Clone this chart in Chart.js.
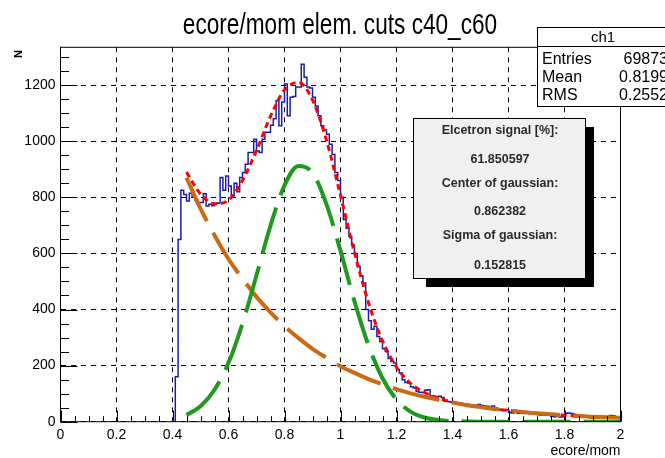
<!DOCTYPE html>
<html>
<head>
<meta charset="utf-8">
<script src="https://cdn.jsdelivr.net/npm/chart.js@4.4.0/dist/chart.umd.min.js"></script>
<style>
  html, body { margin: 0; padding: 0; background: #fff; }
</style>
</head>
<body>
<canvas id="c" width="665" height="458"></canvas>
<script>
// ecore/mom 히스토그램 (0.01 폭 bin, 첫 bin 은 0.41 부터)
const histFirstEdge = 0.41;
const binWidth = 0.01;
const histCounts = [
  160, 650, 825, 810, 787, 815, 805, 790, 782, 782,
  813, 769, 775, 770, 778, 780, 871, 825, 876, 840,
  804, 850, 820, 871, 889, 918, 960, 960, 1007, 965,
  960, 1007, 1032, 1032, 1057, 1080, 1144, 1055, 1140, 1204,
  1091, 1157, 1160, 1193, 1193, 1275, 1228, 1193, 1190, 1157,
  1126, 1091, 1055, 1040, 1025, 989, 953, 889, 860, 800,
  721, 690, 660, 630, 600, 554, 520, 495, 400, 360,
  330, 340, 304, 286, 260, 250, 225, 215, 209, 185,
  174, 150, 140, 138, 125, 120, 108, 105, 104, 112,
  114, 92, 90, 88, 91, 86, 73, 72, 70, 67,
  66, 68, 65, 60, 62, 58, 60, 57, 61, 58,
  56, 55, 52, 56, 50, 44, 42, 40, 43, 33,
  31, 34, 30, 32, 29, 31, 28, 30, 27, 26,
  24, 25, 23, 25, 19, 18, 20, 17, 18, 30,
  31, 29, 27, 18, 17, 19, 16, 18, 13, 12,
  14, 13, 12, 13, 12, 22, 21, 14, 13,
];

// fit 곡선 (그림에서 읽은 값, 0.05 간격)
const fitX = [
  0.45, 0.50, 0.55, 0.60, 0.65, 0.70, 0.75, 0.80, 0.85, 0.90,
  0.95, 1.00, 1.05, 1.10, 1.15, 1.20, 1.25, 1.30, 1.35, 1.40,
  1.45, 1.50, 1.55, 1.60, 1.65, 1.70, 1.75, 1.80, 1.85, 1.90,
  1.95, 2.00,
];
const totalFit = [
  890, 812, 777, 790, 860, 967, 1089, 1183, 1210, 1147,
  1003, 807, 603, 424, 288, 195, 137, 104, 84, 70,
  60, 52, 45, 40, 35, 30, 27, 23, 20, 18,
  16, 14,
];
const signalFit = [
  24, 55, 114, 210, 350, 522, 699, 843, 912, 887,
  775, 609, 429, 272, 155, 79, 36, 15, 6, 2,
  1, 0, 0, 0, 0, 0, 0, 0, 0, 0,
  0, 0,
];
const backgroundFit = [
  870, 760, 665, 580, 510, 445, 390, 340, 298, 260,
  228, 198, 174, 152, 133, 116, 101, 89, 78, 68,
  59, 52, 45, 40, 35, 30, 27, 23, 20, 18,
  16, 14,
];

const xTickLabels = ['0', '0.2', '0.4', '0.6', '0.8', '1', '1.2', '1.4', '1.6', '1.8', '2'];
const yTickLabels = ['0', '200', '400', '600', '800', '1000', '1200'];

const statNames = ['Entries', 'Mean', 'RMS'];
const statValues = ['69873', '0.8199', '0.2552'];
const fitInfo = [
  'Elcetron signal [%]:', '61.850597',
  'Center of gaussian:', '0.862382',
  'Sigma of gaussian:', '0.152815',
];

const FONT = '"Liberation Sans", Arial, sans-serif';

// 히스토그램 계단선용 점 (bin 왼쪽 edge 기준)
const histPoints = [{ x: histFirstEdge, y: 0 }];
histCounts.forEach((c, i) => histPoints.push({ x: histFirstEdge + i * binWidth, y: c }));
histPoints.push({ x: 2.0, y: histCounts[histCounts.length - 1] });

const toXY = (ys) => ys.map((y, i) => ({ x: fitX[i], y }));

// ROOT 스타일: 프레임, 안쪽 눈금, 제목, 통계 박스
const rootLook = {
  id: 'rootLook',
  beforeDraw(chart) {
    const ctx = chart.ctx;
    ctx.save();
    ctx.fillStyle = '#fff';
    ctx.fillRect(0, 0, chart.width, chart.height);
    ctx.restore();
  },
  afterDatasetsDraw(chart) {
    const ctx = chart.ctx;
    const { left, right, top, bottom } = chart.chartArea;
    const xs = chart.scales.x;
    const ys = chart.scales.y;
    ctx.save();

    // frame
    ctx.strokeStyle = '#000';
    ctx.lineWidth = 1;
    ctx.strokeRect(left, top, right - left, bottom - top);

    // inward ticks
    ctx.beginPath();
    for (let i = 0; i <= 40; i++) {
      const px = Math.round(xs.getPixelForValue(i * 0.05)) + 0.5;
      const len = i % 4 === 0 ? 11 : 5.5;
      ctx.moveTo(px, bottom);
      ctx.lineTo(px, bottom - len);
    }
    for (let v = 0; v <= ys.max; v += 50) {
      const py = Math.round(ys.getPixelForValue(v)) + 0.5;
      const len = v % 200 === 0 ? 17 : 8.5;
      ctx.moveTo(left, py);
      ctx.lineTo(left + len, py);
    }
    ctx.stroke();

    // title (condensed Helvetica look)
    ctx.fillStyle = '#000';
    ctx.save();
    ctx.translate(340, 34);
    ctx.scale(0.78, 1);
    ctx.font = '29px ' + FONT;
    ctx.textAlign = 'center';
    ctx.textBaseline = 'alphabetic';
    ctx.fillText('ecore/mom elem. cuts c40_c60', 0, 0);
    ctx.restore();

    // axis titles
    ctx.font = '14px ' + FONT;
    ctx.textAlign = 'right';
    ctx.textBaseline = 'middle';
    ctx.fillText('ecore/mom', right, 451);
    ctx.save();
    ctx.translate(19, 54);
    ctx.rotate(-Math.PI / 2);
    ctx.font = 'bold 11px ' + FONT;
    ctx.textAlign = 'center';
    ctx.fillText('N', 0, 0);
    ctx.restore();

    // stats box
    ctx.fillStyle = '#fff';
    ctx.fillRect(537.5, 27.5, 140, 79);
    ctx.strokeRect(537.5, 27.5, 140, 79);
    ctx.beginPath();
    ctx.moveTo(537.5, 46.5);
    ctx.lineTo(665, 46.5);
    ctx.stroke();
    ctx.fillStyle = '#000';
    ctx.font = '15px ' + FONT;
    ctx.textAlign = 'center';
    ctx.fillText('ch1', 603, 38);
    ctx.font = '16px ' + FONT;
    statNames.forEach((name, i) => {
      const y = 60 + i * 18;
      ctx.textAlign = 'left';
      ctx.fillText(name, 542, y);
      ctx.textAlign = 'right';
      ctx.fillText(statValues[i], 668, y);
    });

    // fit result box with shadow
    ctx.fillStyle = '#000';
    ctx.fillRect(426, 127, 168, 160);
    ctx.fillStyle = '#f0f0f0';
    ctx.fillRect(413.5, 118.5, 172, 160);
    ctx.strokeRect(413.5, 118.5, 172, 160);
    ctx.fillStyle = '#2a2a2a';
    ctx.font = 'bold 12.5px ' + FONT;
    ctx.textAlign = 'center';
    const lineY = [131, 160, 184, 212, 236, 266];
    fitInfo.forEach((t, i) => ctx.fillText(t, 500, lineY[i]));

    ctx.restore();
  },
};

new Chart(document.getElementById('c'), {
  type: 'line',
  data: {
    datasets: [
      {
        label: 'signal',
        data: toXY(signalFit),
        borderColor: '#1f9a1f',
        borderWidth: 4,
        borderDash: [48, 13],
        cubicInterpolationMode: 'monotone',
        pointRadius: 0,
        fill: false,
      },
      {
        label: 'background',
        data: toXY(backgroundFit),
        borderColor: '#cc6a14',
        borderWidth: 4,
        borderDash: [48, 13],
        cubicInterpolationMode: 'monotone',
        pointRadius: 0,
        fill: false,
      },
      {
        label: 'total',
        data: toXY(totalFit),
        borderColor: '#ff0000',
        borderWidth: 3,
        borderDash: [6, 4],
        cubicInterpolationMode: 'monotone',
        pointRadius: 0,
        fill: false,
      },
      {
        label: 'ch1',
        data: histPoints,
        borderColor: '#1c1caa',
        borderWidth: 1.5,
        stepped: true,
        pointRadius: 0,
        fill: false,
      },
    ],
  },
  options: {
    responsive: false,
    devicePixelRatio: 1,
    animation: false,
    events: [],
    layout: { padding: { left: 5, right: 44.5, top: 47.3, bottom: 0 } },
    plugins: {
      legend: { display: false },
      tooltip: { enabled: false },
      title: { display: false },
    },
    scales: {
      x: {
        type: 'linear',
        min: 0,
        max: 2,
        afterFit: (s) => { s.height = 36.3; },
        ticks: {
          stepSize: 0.2,
          includeBounds: false,
          padding: 5,
          color: '#000',
          font: { family: FONT, size: 14 },
          maxRotation: 0,
          autoSkip: false,
          callback: (v, i) => xTickLabels[i],
        },
        grid: { color: '#000', lineWidth: 1, drawTicks: false },
        border: { display: false, dash: [5, 5] },
      },
      y: {
        type: 'linear',
        min: 0,
        max: 1335,
        afterFit: (s) => { s.width = 55.5; },
        ticks: {
          stepSize: 200,
          includeBounds: false,
          padding: 5,
          color: '#000',
          font: { family: FONT, size: 14 },
          callback: (v, i) => yTickLabels[i],
        },
        grid: { color: '#000', lineWidth: 1, drawTicks: false },
        border: { display: false, dash: [5, 5] },
      },
    },
  },
  plugins: [rootLook],
});
</script>
</body>
</html>
